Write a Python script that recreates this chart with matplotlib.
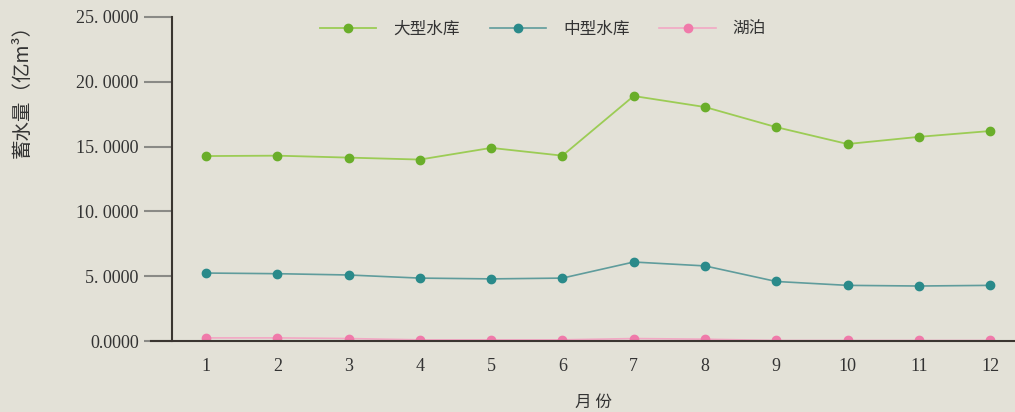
import matplotlib.pyplot as plt
import numpy as np

# Data
months = np.arange(1, 13)
month_labels = [str(m) for m in months]
large = [14.27, 14.3, 14.15, 14.0, 14.9, 14.3, 18.9, 18.05, 16.5, 15.2, 15.75, 16.2]
medium = [5.25, 5.2, 5.1, 4.86, 4.8, 4.86, 6.1, 5.8, 4.6, 4.3, 4.25, 4.3]
lake = [0.25, 0.25, 0.2, 0.1, 0.1, 0.1, 0.2, 0.15, 0.05, 0.05, 0.05, 0.05]
series_names = ['大型水库', '中型水库', '湖泊']
yticks = [0, 5, 10, 15, 20, 25]
ytick_labels = ['0.0000', '5. 0000', '10. 0000', '15. 0000', '20. 0000', '25. 0000']

bg = '#e3e1d7'
cjk = ['Noto Sans CJK SC', 'DejaVu Sans']
serif = ['Liberation Serif', 'DejaVu Serif']

fig = plt.figure(figsize=(10.15, 4.12), dpi=100, facecolor=bg)
ax = fig.add_axes([0.1695, 0.172, 0.8305, 0.787], facecolor=bg)

ax.plot(months, large, color='#9ccc55', lw=1.3, marker='o', ms=6,
        mfc='#6aae2a', mec='#6aae2a', label=series_names[0])
ax.plot(months, medium, color='#5f9c9c', lw=1.2, marker='o', ms=6,
        mfc='#2a8a8a', mec='#2a8a8a', label=series_names[1])
ax.plot(months, lake, color='#f2a8c4', lw=1.2, marker='o', ms=6,
        mfc='#f07aaa', mec='#f07aaa', label=series_names[2])

ax.set_xlim(0.523, 12.35)
ax.set_ylim(0, 25)
ax.set_xticks(months)
ax.set_xticklabels(month_labels, family=serif, fontsize=13, color='#333333')
ax.set_yticks(yticks)
ax.set_yticklabels(ytick_labels, family=serif, fontsize=13, color='#333333')
ax.tick_params(axis='x', length=0, pad=12)
ax.tick_params(axis='y', length=20, width=1.5, color='#8a8a86', pad=4)

for side in ['top', 'right']:
    ax.spines[side].set_visible(False)
ax.spines['left'].set_color('#3a3530')
ax.spines['left'].set_linewidth(1.5)
ax.spines['bottom'].set_color('#3a3530')
ax.spines['bottom'].set_linewidth(1.5)
ax.spines['bottom'].set_bounds(0.523 - 0.3, 12.35)

ax.set_xlabel('月 份', family=cjk, fontsize=12, color='#333333', labelpad=14)
fig.text(0.022, 0.79, '蓄水量（亿m³）', rotation=90, family=cjk, fontsize=14,
         color='#333333', ha='center', va='center')

leg = ax.legend(loc='upper center', bbox_to_anchor=(0.44, 1.035), ncol=3,
                frameon=False, handlelength=3.4, handletextpad=1.0,
                columnspacing=1.8, prop={'family': cjk, 'size': 12})
for t in leg.get_texts():
    t.set_color('#333333')

fig.savefig('out.png', dpi=100, facecolor=bg)
